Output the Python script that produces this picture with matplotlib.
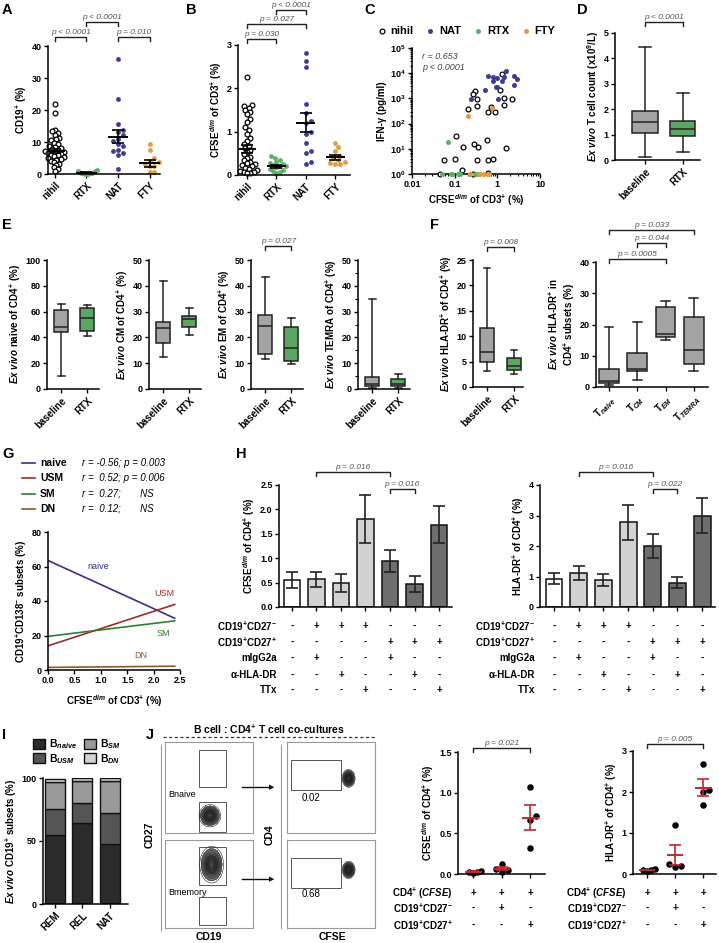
import numpy as np
import matplotlib
matplotlib.use('Agg')
import matplotlib.pyplot as plt
import matplotlib.transforms as mtrans
from matplotlib.lines import Line2D
from matplotlib.patches import Rectangle, Patch

plt.rcParams['font.family'] = ['Liberation Sans', 'DejaVu Sans']
plt.rcParams.update({
    'font.size': 7, 'font.weight': 'bold', 'axes.labelweight': 'bold',
    'axes.labelsize': 7, 'xtick.labelsize': 6.5, 'ytick.labelsize': 6.5,
    'axes.linewidth': 1.1, 'axes.labelpad': 2,
    'mathtext.fontset': 'custom', 'mathtext.rm': 'Liberation Sans:bold',
    'mathtext.bf': 'Liberation Sans:bold', 'mathtext.sf': 'Liberation Sans:bold',
    'mathtext.it': 'Liberation Sans:italic:bold',
})

# ---------------- data ----------------
cats4 = ['nihil', 'RTX', 'NAT', 'FTY']
a_nihil = [22.0, 19.2, 13.7, 13.4, 12.8, 12.2, 11.2, 10.8, 10.5, 9.8, 9.3, 8.8, 8.4, 8.0, 7.8, 7.5,
           7.2, 7.0, 6.8, 6.5, 6.3, 6.0, 5.8, 5.5, 5.2, 5.0, 4.7, 4.4, 4.0, 3.7, 3.2, 2.8, 2.2, 1.5, 0.8]
a_rtx = [1.2, 1.0, 0.8, 0.7, 0.5, 0.4, 0.4, 0.3, 0.3, 0.2, 0.2, 0.1, 0.1, 0.1]
a_nat = [35.8, 23.5, 15.5, 13.7, 13.2, 12.2, 11.0, 10.2, 9.5, 8.8, 7.6, 7.2, 6.5, 6.0, 1.5]
a_fty = [9.5, 7.5, 5.0, 4.2, 3.6, 3.0, 2.6, 2.4, 0.6, 0.5]
a_mean = [7.2, 0.45, 11.7, 3.3]
a_sem = [0.7, 0.1, 2.1, 1.0]

b_nihil = [2.27, 1.62, 1.6, 1.55, 1.5, 1.45, 1.4, 1.3, 1.22, 1.1, 1.05, 0.95, 0.85, 0.78, 0.72, 0.68,
           0.62, 0.58, 0.52, 0.48, 0.42, 0.4, 0.35, 0.3, 0.28, 0.25, 0.22, 0.2, 0.17, 0.15, 0.12,
           0.1, 0.08, 0.06, 0.05, 0.04]
b_rtx = [0.43, 0.4, 0.35, 0.3, 0.28, 0.25, 0.22, 0.2, 0.2, 0.18, 0.15, 0.12, 0.1, 0.08, 0.05]
b_nat = [2.82, 2.62, 2.5, 1.65, 1.42, 1.25, 1.2, 1.0, 0.95, 0.75, 0.55, 0.5, 0.3, 0.25]
b_fty = [0.75, 0.65, 0.55, 0.45, 0.4, 0.35, 0.3, 0.28, 0.25, 0.25]
b_mean = [0.6, 0.2, 1.21, 0.41]
b_sem = [0.09, 0.03, 0.21, 0.06]

c_nihil_x = [1.3, 1.15, 1.45, 1.45, 2.25, 0.3, 0.27, 0.34, 0.2, 0.34, 0.7, 0.6, 0.9, 0.11, 0.16,
             0.29, 0.36, 0.56, 1.6, 0.055, 0.1, 0.34, 0.6, 0.8, 0.15, 0.045, 0.6, 0.27]
c_nihil_y = [9000, 2200, 1000, 550, 950, 2000, 1500, 950, 370, 480, 450, 280, 280, 33, 12,
             16, 12, 23, 10.5, 3.6, 3.8, 3.6, 3.7, 3.8, 1.4, 1.0, 1.1, 1.0]
c_nat_x = [0.24, 0.52, 0.62, 0.78, 0.78, 0.98, 0.95, 1.05, 1.27, 1.4, 1.6, 2.5, 2.85, 2.5, 1.0]
c_nat_y = [960, 2200, 7900, 7000, 5000, 6300, 2800, 960, 4700, 7000, 12000, 7400, 5800, 3500, 2800]
c_rtx_x = [0.068, 0.05, 0.08, 0.085, 0.12, 0.13, 0.3, 0.33]
c_rtx_y = [19, 1, 1, 1, 1, 1, 1, 1]
c_fty_x = [0.21, 0.74, 0.23, 0.38, 0.4, 0.5, 0.6, 0.65]
c_fty_y = [200, 410, 1, 1, 1, 1, 1, 1]

# box stats: whisker low, q1, median, q3, whisker high
d_stats = [(0.12, 1.07, 1.5, 1.92, 4.45), (0.3, 0.95, 1.22, 1.52, 2.65)]
e_naive = [(10, 44, 48, 61, 66), (41, 45, 55, 62.5, 65)]
e_cm = [(12.5, 18, 23.5, 26, 42), (21, 24, 27, 28.3, 31.5)]
e_em = [(11.5, 13.5, 24.5, 28.5, 43.5), (9.5, 11, 16, 24, 27.5)]
e_temra = [(0.3, 1.3, 1.8, 4.5, 35), (0.3, 1.0, 1.8, 4.0, 5.7)]
f_hla = [(3.2, 5.0, 6.8, 11.7, 23.5), (2.6, 3.4, 4.1, 5.8, 7.2)]
f_subsets = [(0.5, 1.2, 1.8, 5.7, 19.3), (2.4, 5.0, 5.8, 11.0, 20.8),
             (15.0, 16.0, 17.0, 25.7, 27.5), (5.2, 7.5, 12.0, 22.4, 28.5)]
bl_rtx = ['baseline', 'RTX']
t_subsets = ['T$_{naive}$', 'T$_{CM}$', 'T$_{EM}$', 'T$_{TEMRA}$']

g_x = [0.0, 2.4]
g_naive = [63.5, 30.0]
g_usm = [14.0, 38.0]
g_sm = [19.5, 28.5]
g_dn = [1.5, 2.2]
g_r = ['r = -0.56; p = 0.003', 'r =  0.52; p = 0.006', 'r =  0.27;       NS', 'r =  0.12;       NS']

h_cfse = [0.55, 0.57, 0.49, 1.80, 0.94, 0.47, 1.69]
h_cfse_sem = [0.16, 0.15, 0.18, 0.49, 0.22, 0.17, 0.38]
h_hla = [0.93, 1.12, 0.88, 2.78, 2.00, 0.80, 3.00]
h_hla_sem = [0.19, 0.23, 0.19, 0.57, 0.40, 0.17, 0.57]
h_rows = ['CD19$^{+}$CD27$^{-}$', 'CD19$^{+}$CD27$^{+}$', 'mIgG2a', 'α-HLA-DR', 'TTx']
h_signs = [list('-+++---'), list('----+++'), list('-+--+--'), list('--+--+-'), list('---+--+')]

i_cats = ['REM', 'REL', 'NAT']
i_naive = [55, 64, 47.5]
i_usm = [20.5, 16.5, 24.5]
i_sm = [21.5, 17.5, 25.5]
i_dn = [2.5, 2.0, 2.5]

j_cfse = [[0.01, 0.02, 0.03, 0.04], [0.03, 0.05, 0.06, 0.12], [1.07, 0.71, 0.67, 0.32]]
j_hla = [[0.08, 0.10, 0.12, 0.10], [1.19, 0.25, 0.20, 0.18], [2.68, 2.05, 2.00, 1.68]]
j_rows = ['CD4$^{+}$ $\\it{(CFSE)}$', 'CD19$^{+}$CD27$^{-}$', 'CD19$^{+}$CD27$^{+}$']
j_signs = [list('+++'), list('-+-'), list('--+')]

# flow panels: population centres/spreads, gates (x0, y0, x1, y1), gate values
flow_pops = [[(0.51, 0.19, 0.05, 0.05)], [(0.53, 0.72, 0.055, 0.085)],
             [(0.70, 0.60, 0.03, 0.04)], [(0.70, 0.66, 0.03, 0.04)]]
flow_gates = [[(0.39, 0.505, 0.69, 0.91), (0.39, 0.01, 0.69, 0.34)],
              [(0.39, 0.49, 0.69, 0.92), (0.39, 0.03, 0.69, 0.35)],
              [(0.05, 0.47, 0.61, 0.80)], [(0.05, 0.45, 0.61, 0.80)]]
flow_vals = ['0.02', '0.68']

c_nat, c_rtx, c_fty = '#3d3d97', '#5cb068', '#e49a45'
c_box, c_boxg = '#a4a4a4', '#5ca664'

# ---------------- helpers ----------------
W, H = 719, 943
fig = plt.figure(figsize=(W / 100, H / 100), dpi=100)
PX = mtrans.Affine2D().scale(1 / W, -1 / H).translate(0, 1) + fig.transFigure


def axpx(x0, y0, x1, y1):
    return fig.add_axes([x0 / W, 1 - y1 / H, (x1 - x0) / W, (y1 - y0) / H])


def prism(ax, xlim, ylim, yticks, ylabels=None):
    for s in ['top', 'right']:
        ax.spines[s].set_visible(False)
    ax.tick_params(direction='out', length=3, width=1, pad=1.5)
    ax.set_xlim(xlim)
    ax.set_ylim(ylim)
    ax.set_yticks(yticks)
    if ylabels is not None:
        ax.set_yticklabels(ylabels)


def rot_labels(ax, labels, size=7):
    ax.set_xticks(range(len(labels)))
    ax.set_xticklabels(labels, rotation=45, ha='right', rotation_mode='anchor', fontsize=size)


def bracket(ax, x1, x2, ypx, text, tick=4):
    tr = mtrans.blended_transform_factory(ax.transData, PX)
    fig.add_artist(Line2D([x1, x1, x2, x2], [ypx + tick, ypx, ypx, ypx + tick],
                          transform=tr, color='#222', lw=1))
    fig.text((x1 + x2) / 2, ypx - 1, text, transform=tr, ha='center', va='bottom',
             fontsize=6, style='italic', weight='normal', color='#555')


def swarm(vals, center, sx, sy, d, maxw):
    # simple beeswarm in pixel space, then squeezed to a max half-width
    vals = np.asarray(vals, float)
    offs = np.zeros(len(vals))
    placed = []
    for i in np.argsort(vals):
        y = vals[i] * sy
        k = 0
        while True:
            cands = [0.0] if k == 0 else [k * d * 0.5, -k * d * 0.5]
            ok = None
            for c in cands:
                if all((c - px) ** 2 + (y - py) ** 2 >= d ** 2 for px, py in placed):
                    ok = c
                    break
            if ok is not None:
                break
            k += 1
        placed.append((ok, y))
        offs[i] = ok
    big = np.abs(offs).max()
    if big > maxw:
        offs = offs * maxw / big
    return center + offs / sx


def dotplot(ax, groups, colors, means, sems, sx, sy, d, s, maxw, w=0.32, mcol='black'):
    for i, (vals, col) in enumerate(zip(groups, colors)):
        xs = swarm(vals, i, sx, sy, d, maxw)
        if col == 'open':
            ax.scatter(xs, vals, s=s, facecolors='white', edgecolors='black', linewidths=0.9,
                       zorder=2, clip_on=False)
        else:
            ax.scatter(xs, vals, s=s, color=col, zorder=2, clip_on=False, linewidths=0)
        ax.hlines(means[i], i - w, i + w, color=mcol, lw=1.4, zorder=3)
        ax.errorbar(i, means[i], yerr=sems[i], fmt='none', ecolor=mcol, elinewidth=1.2,
                    capsize=4, capthick=1.2, zorder=3)


def boxes(ax, stats, colors, width):
    st = [dict(whislo=a, q1=b, med=c, q3=d, whishi=e, fliers=[]) for a, b, c, d, e in stats]
    bp = ax.bxp(st, positions=range(len(st)), widths=width, patch_artist=True, showfliers=False,
                boxprops=dict(linewidth=1.1, edgecolor='#222'),
                medianprops=dict(color='#222', lw=1.1),
                whiskerprops=dict(color='#222', lw=1.1),
                capprops=dict(color='#222', lw=1.1), capwidths=width * 0.45)
    for p, c in zip(bp['boxes'], colors):
        p.set_facecolor(c)


def sign_table(ax, labels, signs, ys, xlab):
    tr = mtrans.blended_transform_factory(ax.transData, PX)
    for lab, row, y in zip(labels, signs, ys):
        fig.text(xlab, y, lab, transform=PX, ha='right', va='center', fontsize=7)
        for i, s in enumerate(row):
            fig.text(i, y, s, transform=tr, ha='center', va='center', fontsize=7)


def letter(x, y, s):
    fig.text(x, y, s, transform=PX, fontsize=10.5, ha='left', va='top')


# ---------------- A ----------------
axA = axpx(48, 46, 160, 174)
prism(axA, (-0.22, 3.33), (0, 40), [0, 10, 20, 30, 40])
dotplot(axA, [a_nihil, a_rtx, a_nat, a_fty], ['open', c_rtx, c_nat, c_fty], a_mean, a_sem,
        31.5, 3.2, 4.8, 12, maxw=10)
rot_labels(axA, cats4)
axA.set_ylabel('CD19$^{+}$ (%)')
bracket(axA, 0, 1, 37, 'p < 0.0001')
bracket(axA, 1, 2, 22, 'p < 0.0001')
bracket(axA, 2, 3, 37, 'p = 0.010')
letter(2, 3, 'A')

# ---------------- B ----------------
axB = axpx(238, 45, 350, 175)
prism(axB, (-0.3, 3.5), (0, 3), [0, 1, 2, 3])
dotplot(axB, [b_nihil, b_rtx, b_nat, b_fty], ['open', c_rtx, c_nat, c_fty], b_mean, b_sem,
        29.5, 43.3, 4.8, 12, maxw=10)
rot_labels(axB, cats4)
axB.set_ylabel('CFSE$^{dim}$ of CD3$^{+}$ (%)')
bracket(axB, 0, 1, 39, 'p = 0.030')
bracket(axB, 0, 2, 24, 'p = 0.027')
bracket(axB, 1, 2, 10, 'p < 0.0001')
letter(186, 3, 'B')

# ---------------- C ----------------
axC = axpx(412, 48, 540, 174)
axC.set_xscale('log')
axC.set_yscale('log')
prism(axC, (0.01, 10), (1, 1e5), [1, 10, 100, 1e3, 1e4, 1e5])
axC.set_xticks([0.01, 0.1, 1, 10])
axC.set_xticklabels(['0.01', '0.1', '1', '10'])
axC.tick_params(which='minor', length=1.5, width=0.8)
axC.scatter(c_nihil_x, c_nihil_y, s=12, facecolors='white', edgecolors='black', linewidths=0.9,
            clip_on=False, zorder=3, label='nihil')
axC.scatter(c_nat_x, c_nat_y, s=13, color=c_nat, clip_on=False, zorder=3, label='NAT', linewidths=0)
axC.scatter(c_rtx_x, c_rtx_y, s=13, color=c_rtx, clip_on=False, zorder=3, label='RTX', linewidths=0)
axC.scatter(c_fty_x, c_fty_y, s=13, color=c_fty, clip_on=False, zorder=3, label='FTY', linewidths=0)
axC.legend(loc='center', bbox_to_anchor=(0.42, 1.135), ncol=4, frameon=False, fontsize=8,
           handletextpad=0.3, columnspacing=1.0, borderpad=0, handlelength=1.0)
axC.set_xlabel('CFSE$^{dim}$ of CD3$^{+}$ (%)')
axC.set_ylabel('IFN-γ (pg/ml)')
axC.text(0.08, 0.97, 'r = 0.653', transform=axC.transAxes, style='italic', weight='normal',
         color='#444', fontsize=6.5, va='top')
axC.text(0.08, 0.88, 'p < 0.0001', transform=axC.transAxes, style='italic', weight='normal',
         color='#444', fontsize=6.5, va='top')
letter(364, 3, 'C')

# ---------------- D ----------------
axD = axpx(615, 33, 700, 160)
prism(axD, (-0.79, 1.45), (0, 5), [0, 1, 2, 3, 4, 5])
boxes(axD, d_stats, [c_box, c_boxg], 0.66)
rot_labels(axD, bl_rtx)
axD.set_ylabel('$\\it{Ex\\ vivo}$ T cell count (x10$^{9}$/L)')
bracket(axD, 0, 1, 22, 'p < 0.0001')
letter(577, 3, 'D')

# ---------------- E ----------------
e_specs = [(47, e_naive, 100, 20, 'naive'), (149, e_cm, 50, 10, 'CM'),
           (251, e_em, 50, 10, 'EM'), (358, e_temra, 50, 10, 'TEMRA')]
e_axes = []
for x0, stats, top, step, name in e_specs:
    ax = axpx(x0, 260, x0 + 52, 389)
    prism(ax, (-0.55, 1.45), (0, top), np.arange(0, top + 1, step))
    boxes(ax, stats, [c_box, c_boxg], 0.55)
    rot_labels(ax, bl_rtx)
    ax.set_ylabel('$\\it{Ex\\ vivo}$ ' + name + ' of CD4$^{+}$ (%)')
    e_axes.append(ax)
e_axes[3].set_yticks(np.arange(0, 51, 5), minor=True)
e_axes[3].tick_params(which='minor', length=2, width=0.8)
bracket(e_axes[2], 0, 1, 246, 'p = 0.027')
letter(2, 218, 'E')

# ---------------- F ----------------
axF1 = axpx(473, 260, 523, 387)
prism(axF1, (-0.52, 1.33), (0, 25), [0, 5, 10, 15, 20, 25])
boxes(axF1, f_hla, [c_box, c_boxg], 0.52)
rot_labels(axF1, bl_rtx)
axF1.set_ylabel('$\\it{Ex\\ vivo}$ HLA-DR$^{+}$ of CD4$^{+}$ (%)')
bracket(axF1, 0, 1, 247, 'p = 0.008')

axF2 = axpx(596, 262, 708, 387)
prism(axF2, (-0.46, 3.5), (0, 40), [0, 10, 20, 30, 40])
boxes(axF2, f_subsets, [c_box] * 4, 0.7)
rot_labels(axF2, t_subsets)
axF2.set_ylabel('$\\it{Ex\\ vivo}$ HLA-DR$^{+}$ in\nCD4$^{+}$ subsets (%)', linespacing=1.1)
bracket(axF2, 0, 2, 259, 'p = 0.0005')
bracket(axF2, 1, 2, 243, 'p = 0.044')
bracket(axF2, 0, 3, 230, 'p = 0.033')
letter(430, 218, 'F')

# ---------------- G ----------------
axG = axpx(48, 532, 180, 670)
prism(axG, (0, 2.5), (0, 80), [0, 20, 40, 60, 80])
axG.set_xticks([0, 0.5, 1.0, 1.5, 2.0, 2.5])
axG.set_xticklabels(['0.0', '0.5', '1.0', '1.5', '2.0', '2.5'])
g_cols = ['#34348a', '#a02a2a', '#2f7d2f', '#8a5a24']
g_names = ['naive', 'USM', 'SM', 'DN']
for vals, col in zip([g_naive, g_usm, g_sm, g_dn], g_cols):
    axG.plot(g_x, vals, color=col, lw=1.2)
for name, col, (tx, ty) in zip(g_names, g_cols, [(0.95, 60), (2.2, 44.5), (2.18, 21), (1.75, 8.5)]):
    axG.text(tx, ty, name, color=col, weight='normal', fontsize=6.5, ha='center', va='center')
axG.set_xlabel('CFSE$^{dim}$ of CD3$^{+}$ (%)', labelpad=6)
axG.set_ylabel('CD19$^{+}$CD138$^{-}$ subsets (%)')
for k, (name, col, rtxt) in enumerate(zip(g_names, g_cols, g_r)):
    y = 463 + k * 15.3
    fig.add_artist(Line2D([22, 35], [y, y], transform=PX, color=col, lw=1.2))
    fig.text(40, y, name, transform=PX, va='center', fontsize=7.5)
    fig.text(82, y, rtxt, transform=PX, va='center', fontsize=7, style='italic', weight='normal')
letter(2, 447, 'G')

# ---------------- H ----------------
h_cols = ['white'] + ['#d2d2d2'] * 3 + ['#6e6e6e'] * 3
axH1 = axpx(279, 485, 452, 607)
prism(axH1, (-0.53, 6.53), (0, 2.5), [0, 0.5, 1.0, 1.5, 2.0, 2.5],
      ['0.0', '0.5', '1.0', '1.5', '2.0', '2.5'])
axH1.bar(range(7), h_cfse, width=0.68, color=h_cols, edgecolor='#111', lw=1.1,
         yerr=h_cfse_sem, capsize=4, error_kw=dict(elinewidth=1.2, capthick=1.2, ecolor='#222'))
axH1.set_xticks(range(7))
axH1.set_xticklabels([])
axH1.set_ylabel('CFSE$^{dim}$ of CD4$^{+}$ (%)')
sign_table(axH1, h_rows, h_signs, [626, 642, 658, 675, 690], 277)
bracket(axH1, 1, 4, 472, 'p = 0.016')
bracket(axH1, 4, 5, 489, 'p = 0.016')

axH2 = axpx(540, 485, 715, 607)
prism(axH2, (-0.57, 6.52), (0, 4), [0, 1, 2, 3, 4])
axH2.bar(range(7), h_hla, width=0.68, color=h_cols, edgecolor='#111', lw=1.1,
         yerr=h_hla_sem, capsize=4, error_kw=dict(elinewidth=1.2, capthick=1.2, ecolor='#222'))
axH2.set_xticks(range(7))
axH2.set_xticklabels([])
axH2.set_ylabel('HLA-DR$^{+}$ of CD4$^{+}$ (%)')
sign_table(axH2, h_rows, h_signs, [626, 642, 658, 675, 690], 535)
bracket(axH2, 1, 4, 472, 'p = 0.016')
bracket(axH2, 4, 5, 489, 'p = 0.022')
letter(236, 447, 'H')

# ---------------- I ----------------
axI = axpx(43, 778, 128, 904)
prism(axI, (-0.44, 2.67), (0, 100), [0, 50, 100])
i_cols = ['#2b2b2b', '#555555', '#9a9a9a', '#d3d3d3']
i_labels = ['B$_{naive}$', 'B$_{USM}$', 'B$_{SM}$', 'B$_{DN}$']
bottom = np.zeros(3)
for vals, col in zip([i_naive, i_usm, i_sm, i_dn], i_cols):
    axI.bar(range(3), vals, bottom=bottom, width=0.74, color=col, edgecolor='#111', lw=1.0)
    bottom += np.array(vals)
rot_labels(axI, i_cats)
axI.set_ylabel('$\\it{Ex\\ vivo}$ CD19$^{+}$ subsets (%)')
handles = [Patch(facecolor=c, edgecolor='#111', lw=1.0) for c in i_cols]
axI.legend(handles, i_labels, ncol=2, loc='center', bbox_to_anchor=(0.4, 1.21), frameon=False,
           handlelength=1.1, handleheight=1.1, columnspacing=0.7, handletextpad=0.4,
           labelspacing=0.05, fontsize=7.5, borderpad=0)
letter(2, 728, 'I')

# ---------------- J flow ----------------
flow_rects = [(165, 742, 253, 833), (165, 840, 253, 928), (287, 742, 375, 833), (287, 840, 375, 928)]
gx, gy = np.meshgrid(np.linspace(0, 1, 300), np.linspace(0, 1, 300))
for k, rect in enumerate(flow_rects):
    ax = axpx(*rect)
    ax.set_xlim(0, 1)
    ax.set_ylim(0, 1)
    ax.set_xticks([])
    ax.set_yticks([])
    for s in ax.spines.values():
        s.set_color('#999')
        s.set_linewidth(0.8)
    z = np.zeros_like(gx)
    for cx, cy, sx, sy in flow_pops[k]:
        z += np.exp(-((gx - cx) ** 2 / (2 * sx ** 2) + (gy - cy) ** 2 / (2 * sy ** 2)))
    ax.contourf(gx, gy, z, levels=[0.1, 0.5, 1.01], colors=['#8a8a8a', '#5a5a5a'])
    ax.contour(gx, gy, z, levels=np.linspace(0.05, 0.97, 16), colors='#1e1e1e', linewidths=0.4)
    for x0, y0, x1, y1 in flow_gates[k]:
        ax.add_patch(Rectangle((x0, y0), x1 - x0, y1 - y0, fill=False, ec='#555', lw=0.7))
    if k == 0:
        ax.text(0.04, 0.42, 'Bnaive', fontsize=6.5, weight='normal', va='center')
    elif k == 1:
        ax.text(0.04, 0.40, 'Bmemory', fontsize=6.5, weight='normal', va='center')
    else:
        ax.text(0.27, 0.39, flow_vals[k - 2], fontsize=7, weight='normal', ha='center', va='center')

fig.add_artist(Line2D([161, 161], [745, 930], transform=PX, color='#999', lw=0.8))
fig.add_artist(Line2D([281, 281], [745, 928], transform=PX, color='#999', lw=0.8))
fig.add_artist(Line2D([163, 376], [737, 737], transform=PX, color='#333', lw=0.9, ls=(0, (2.5, 2))))
fig.text(269, 729, 'B cell : CD4$^{+}$ T cell co-cultures', transform=PX, ha='center', va='center',
         fontsize=7.5)
for yy in [787, 879]:
    fig.add_artist(Line2D([242, 270], [yy, yy], transform=PX, color='#111', lw=1))
    fig.text(274, yy, '▶', transform=PX, ha='right', va='center', fontsize=5, color='#111',
             family=['DejaVu Sans'])
fig.text(150, 835, 'CD27', transform=PX, rotation=90, ha='center', va='center', fontsize=7.5)
fig.text(209, 937, 'CD19', transform=PX, ha='center', va='center', fontsize=7.5)
fig.text(270, 835, 'CD4', transform=PX, rotation=90, ha='center', va='center', fontsize=7.5)
fig.text(332, 937, 'CFSE', transform=PX, ha='center', va='center', fontsize=7.5)
letter(146, 728, 'J')

# ---------------- J dot plots ----------------
axJ1 = axpx(458, 752, 545, 874)
prism(axJ1, (-0.53, 2.52), (0, 1.5), [0, 0.5, 1.0, 1.5], ['0.0', '0.5', '1.0', '1.5'])
j1_mean = [float(np.mean(v)) for v in j_cfse]
j1_sem = [float(np.std(v, ddof=1) / 2) for v in j_cfse]
dotplot(axJ1, j_cfse, ['black'] * 3, j1_mean, j1_sem, 28.5, 81.3, 6, 22, maxw=8, w=0.3,
        mcol='#c0282d')
axJ1.set_xticks(range(3))
axJ1.set_xticklabels([])
axJ1.set_ylabel('CFSE$^{dim}$ of CD4$^{+}$ (%)')
sign_table(axJ1, j_rows, j_signs, [893, 908, 925], 453)
bracket(axJ1, 0, 2, 748, 'p = 0.021')

axJ2 = axpx(633, 751, 716, 874)
prism(axJ2, (-0.5, 2.46), (0, 3), [0, 1, 2, 3])
j2_mean = [float(np.mean(v)) for v in j_hla]
j2_sem = [float(np.std(v, ddof=1) / 2) for v in j_hla]
dotplot(axJ2, j_hla, ['black'] * 3, j2_mean, j2_sem, 28, 41, 6, 22, maxw=8, w=0.3,
        mcol='#c0282d')
axJ2.set_xticks(range(3))
axJ2.set_xticklabels([])
axJ2.set_ylabel('HLA-DR$^{+}$ of CD4$^{+}$ (%)')
sign_table(axJ2, j_rows, j_signs, [893, 908, 925], 627)
bracket(axJ2, 0, 2, 744, 'p = 0.005')

fig.savefig('out.png', dpi=100)
